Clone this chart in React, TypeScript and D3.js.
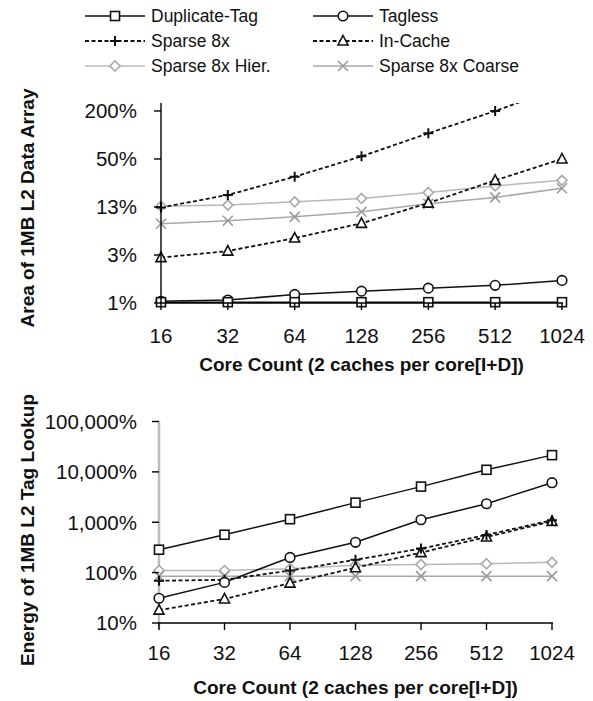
import React from "react";
import * as d3 from "d3";

const CATEGORIES = [16, 32, 64, 128, 256, 512, 1024];
const SERIES_NAMES = ["Duplicate-Tag", "Tagless", "Sparse 8x", "In-Cache", "Sparse 8x Hier.", "Sparse 8x Coarse"];

// Top chart: area (% of 1MB L2 data array)
const areaDuplicateTag = [0.8, 0.8, 0.8, 0.8, 0.8, 0.8, 0.8];
const areaTagless = [0.82, 0.85, 1.0, 1.1, 1.2, 1.3, 1.5];
const areaSparse8x = [12.3, 17.7, 30, 54, 105, 200, 400];
const areaInCache = [2.9, 3.5, 5.1, 7.8, 14, 27, 50];
const areaHier = [12.8, 13.2, 14.5, 16, 19, 23, 27];
const areaCoarse = [7.7, 8.4, 9.4, 10.9, 13.7, 16.5, 21.5];
const TOP_TICKS = [0.78125, 3.125, 12.5, 50, 200];

// Bottom chart: energy (% of 1MB L2 tag lookup)
const energyDuplicateTag = [285, 565, 1150, 2450, 5100, 11000, 21500];
const energyTagless = [31, 64, 200, 400, 1120, 2330, 6100];
const energySparse8x = [69, 72, 110, 180, 300, 560, 1100];
const energyInCache = [18, 30, 62, 125, 250, 510, 1040];
const energyHier = [110, 110, 120, 140, 145, 150, 160];
const energyCoarse = [85, 85, 85, 85, 85, 85, 85];
const BOTTOM_TICKS = [10, 100, 1000, 10000, 100000];

const TOP_TITLE_Y = "Area of 1MB L2 Data Array";
const BOTTOM_TITLE_Y = "Energy of 1MB L2 Tag Lookup";
const TITLE_X = "Core Count (2 caches per core[I+D])";

type Style = { color: string; dash?: string; marker: string; markerColor: string; width: number };
const STYLES: Style[] = [
  { color: "#111", marker: "square", markerColor: "#111", width: 1.5 },
  { color: "#111", marker: "circle", markerColor: "#111", width: 1.5 },
  { color: "#111", dash: "4,2.5", marker: "plus", markerColor: "#111", width: 1.8 },
  { color: "#111", dash: "4,2.5", marker: "triangle", markerColor: "#111", width: 1.8 },
  { color: "#b8b8b8", marker: "diamond", markerColor: "#a8a8a8", width: 1.5 },
  { color: "#a8a8a8", marker: "x", markerColor: "#9a9a9a", width: 1.5 },
];

const FONT = "'Liberation Sans', Arial, sans-serif";

function Marker({ type, x, y, color }: { type: string; x: number; y: number; color: string }) {
  const sw = 1.6;
  switch (type) {
    case "square":
      return <rect x={x - 4.5} y={y - 4.5} width={9} height={9} fill="#fff" stroke={color} strokeWidth={sw} />;
    case "circle":
      return <circle cx={x} cy={y} r={4.8} fill="#fff" stroke={color} strokeWidth={sw} />;
    case "triangle":
      return <polygon points={`${x},${y - 5.5} ${x + 5},${y + 4} ${x - 5},${y + 4}`} fill="#fff" stroke={color} strokeWidth={sw} />;
    case "plus":
      return <path d={`M${x - 5},${y}H${x + 5}M${x},${y - 5}V${y + 5}`} stroke={color} strokeWidth={2} fill="none" />;
    case "diamond":
      return <polygon points={`${x},${y - 5} ${x + 5},${y} ${x},${y + 5} ${x - 5},${y}`} fill="#fff" stroke={color} strokeWidth={sw} />;
    case "x":
      return <path d={`M${x - 5},${y - 5}L${x + 5},${y + 5}M${x - 5},${y + 5}L${x + 5},${y - 5}`} stroke={color} strokeWidth={sw} fill="none" />;
  }
  return null;
}

function Chart({
  data, yScale, ticks, tickFmt, x0, x1, axisTop, axisY, yTitle, yTitleCenter, xTitleY, tickLabelY, clipId, grayYAxis,
}: any) {
  const x = d3.scalePoint<number>().domain(CATEGORIES).range([x0, x1]).padding(0);
  const line = d3.line<number>().x((_, i) => x(CATEGORIES[i])!).y((d) => yScale(d));
  // draw gray series first, then black
  const order = [4, 5, 3, 2, 1, 0];
  return (
    <g>
      <defs>
        <clipPath id={clipId}>
          <rect x={x0 - 10} y={axisTop} width={x1 - x0 + 20} height={axisY - axisTop + 10} />
        </clipPath>
      </defs>
      {grayYAxis ? (
        <line x1={x0} x2={x0} y1={axisTop} y2={axisY + 6} stroke="#bdbdbd" strokeWidth={2.5} />
      ) : null}
      <g clipPath={`url(#${clipId})`}>
        {order.map((si) => (
          <path key={"l" + si} d={line(data[si]) || ""} fill="none" stroke={STYLES[si].color}
            strokeWidth={STYLES[si].width} strokeDasharray={STYLES[si].dash} />
        ))}
        {order.map((si) =>
          data[si].map((v: number, i: number) => (
            <Marker key={"m" + si + "-" + i} type={STYLES[si].marker} x={x(CATEGORIES[i])!} y={yScale(v)} color={STYLES[si].markerColor} />
          ))
        )}
      </g>
      {/* Y axis */}
      {!grayYAxis ? <line x1={x0} x2={x0} y1={axisTop} y2={axisY} stroke="#000" strokeWidth={1.4} /> : null}
      {ticks.map((t: number) => (
        <g key={"yt" + t}>
          <line x1={x0 - 7} x2={x0} y1={yScale(t)} y2={yScale(t)} stroke="#000" strokeWidth={1.4} />
          <text x={137} y={yScale(t)} dy="0.36em" textAnchor="end" fontSize={20.5} fontFamily={FONT} fill="#111">
            {tickFmt(t)}
          </text>
        </g>
      ))}
      {/* X axis */}
      <line x1={x0 - 1} x2={x1 + 1} y1={axisY} y2={axisY} stroke="#000" strokeWidth={1.4} />
      {CATEGORIES.map((c) => (
        <g key={"xt" + c}>
          <line x1={x(c)} x2={x(c)} y1={axisY} y2={axisY + 7} stroke="#000" strokeWidth={1.4} />
          <text x={x(c)} y={tickLabelY} dy="0.36em" textAnchor="middle" fontSize={20.5} fontFamily={FONT} fill="#111">
            {c}
          </text>
        </g>
      ))}
      <text x={(x0 + x1) / 2} y={xTitleY} dy="0.36em" textAnchor="middle" fontSize={19} fontWeight="bold" fontFamily={FONT} fill="#111">
        {TITLE_X}
      </text>
      <text transform={`translate(27,${yTitleCenter}) rotate(-90)`} dy="0.36em" textAnchor="middle" fontSize={19} fontWeight="bold" fontFamily={FONT} fill="#111">
        {yTitle}
      </text>
    </g>
  );
}

function Legend() {
  const cols = [85, 313];
  const rows = [16, 41, 66];
  return (
    <g>
      {SERIES_NAMES.map((name, i) => {
        const cx = cols[i % 2];
        const cy = rows[Math.floor(i / 2)];
        const s = STYLES[i];
        return (
          <g key={name}>
            <line x1={cx} x2={cx + 60} y1={cy} y2={cy} stroke={s.color} strokeWidth={s.width} strokeDasharray={s.dash} />
            <Marker type={s.marker} x={cx + 30} y={cy} color={s.markerColor} />
            <text x={cx + 66} y={cy} dy="0.36em" fontSize={17.5} fontFamily={FONT} fill="#111">
              {name}
            </text>
          </g>
        );
      })}
    </g>
  );
}

export default function App() {
  const topData = [areaDuplicateTag, areaTagless, areaSparse8x, areaInCache, areaHier, areaCoarse];
  const bottomData = [energyDuplicateTag, energyTagless, energySparse8x, energyInCache, energyHier, energyCoarse];
  const yTop = d3.scaleLog().base(4).domain([0.78125, 200]).range([303, 111]);
  const yBottom = d3.scaleLog().base(10).domain([10, 100000]).range([623, 421.5]);
  const fmtTop = (v: number) => Math.round(v) + "%";
  const fmtBottom = (v: number) => d3.format(",")(v) + "%";
  return (
    <svg width={593} height={701} style={{ position: "absolute", left: 0, top: 0, background: "#fff" }}>
      <rect width={593} height={701} fill="#fff" />
      <Legend />
      <Chart data={topData} yScale={yTop} ticks={TOP_TICKS} tickFmt={fmtTop} x0={161} x1={562}
        axisTop={103} axisY={303} yTitle={TOP_TITLE_Y} yTitleCenter={208} xTitleY={364} tickLabelY={336} clipId="clipTop" grayYAxis={false} />
      <Chart data={bottomData} yScale={yBottom} ticks={BOTTOM_TICKS} tickFmt={fmtBottom} x0={159} x1={552}
        axisTop={421.5} axisY={623} yTitle={BOTTOM_TITLE_Y} yTitleCenter={530} xTitleY={687} tickLabelY={653} clipId="clipBottom" grayYAxis={true} />
    </svg>
  );
}
